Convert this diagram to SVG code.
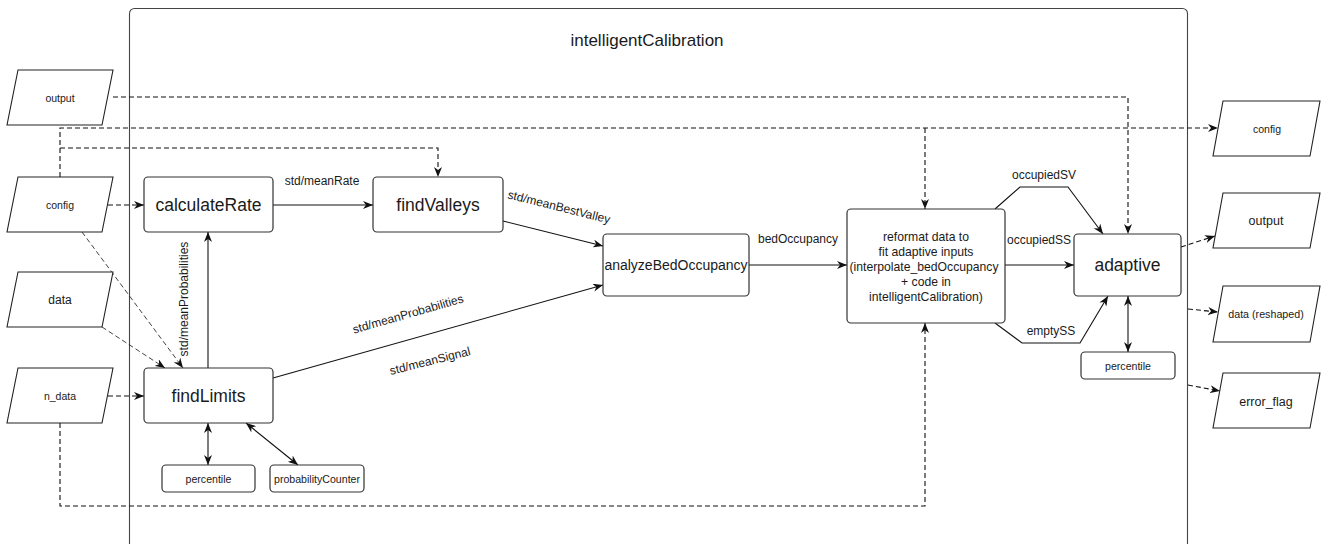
<svg xmlns="http://www.w3.org/2000/svg" width="1326" height="544" viewBox="0 0 1326 544">
<style>
text{font-family:"Liberation Sans",Arial,sans-serif;fill:#1a1a1a;text-anchor:middle;dominant-baseline:central}
.box{fill:#fff;stroke:#333;stroke-width:1.2}
.io{fill:#fff;stroke:#222;stroke-width:1.1}
.ln{fill:none;stroke:#111;stroke-width:1.1}
.dash{stroke-dasharray:5 3}
.big{font-size:17.5px}
.lbl{font-size:12px}
.sm{font-size:10.6px}
</style>
<defs>
<marker id="arr" viewBox="0 0 10 8" refX="10" refY="4" markerWidth="10" markerHeight="8" markerUnits="userSpaceOnUse" orient="auto-start-reverse"><path d="M0,0 L10,4 L0,8 L3,4 z" fill="#111"/></marker>
</defs>
<rect width="1326" height="544" fill="#fff"/>
<g id="container">
<rect x="129.5" y="8.5" width="1058" height="580" rx="5" fill="#fff" stroke="#444" stroke-width="1.1"/>
<text x="647" y="40" style="font-size:17px">intelligentCalibration</text>
</g>
<g id="connectors">
<path class="ln dash" d="M113,97 H1128 V234" marker-end="url(#arr)"/>
<path class="ln dash" d="M60,177 V128 H1218" marker-end="url(#arr)"/>
<path class="ln dash" d="M60,148 H438 V177" marker-end="url(#arr)"/>
<path class="ln dash" d="M925,128 V209" marker-end="url(#arr)"/>
<path class="ln dash" d="M108,205 H144" marker-end="url(#arr)"/>
<path class="ln dash" d="M82,232 L183,368" marker-end="url(#arr)" style="stroke-width:0.8"/>
<path class="ln dash" d="M102,327 L165,368" marker-end="url(#arr)" style="stroke-width:0.8"/>
<path class="ln dash" d="M108,396 H144" marker-end="url(#arr)"/>
<path class="ln dash" d="M60,423 V506 H925 V323" marker-end="url(#arr)"/>
<path class="ln" d="M208,368 V232" marker-end="url(#arr)"/>
<path class="ln" d="M273,205 H373" marker-end="url(#arr)"/>
<path class="ln" d="M503,221 L603,246" marker-end="url(#arr)"/>
<path class="ln" d="M273,378 L603,285" marker-end="url(#arr)"/>
<path class="ln" d="M749,265 H847" marker-end="url(#arr)"/>
<path class="ln" d="M995,209 L1020,187 H1068 L1103,234" marker-end="url(#arr)"/>
<path class="ln" d="M1005,265 H1074" marker-end="url(#arr)"/>
<path class="ln" d="M995,323 L1022,343 H1080 L1108,296" marker-end="url(#arr)"/>
<path class="ln" d="M1128,296 V352" marker-start="url(#arr)" marker-end="url(#arr)"/>
<path class="ln dash" d="M1181,247 L1215,236" marker-end="url(#arr)"/>
<path class="ln dash" d="M1188,309 L1218,312" marker-end="url(#arr)"/>
<path class="ln dash" d="M1188,385 L1220,391" marker-end="url(#arr)"/>
<path class="ln" d="M208,423 V465" marker-start="url(#arr)" marker-end="url(#arr)"/>
<path class="ln" d="M246,423 L298,465" marker-start="url(#arr)" marker-end="url(#arr)"/>
<text class="lbl" x="322" y="181">std/meanRate</text>
<text class="lbl" x="184" y="299" transform="rotate(-90 184 299)">std/meanProbabilities</text>
<text class="lbl" x="559" y="207" transform="rotate(14 559 207)">std/meanBestValley</text>
<text class="lbl" x="408" y="314" transform="rotate(-16 408 314)">std/meanProbabilities</text>
<text class="lbl" x="430" y="361" transform="rotate(-14 430 361)">std/meanSignal</text>
<text class="lbl" x="798" y="239">bedOccupancy</text>
<text class="lbl" x="1044" y="175">occupiedSV</text>
<text class="lbl" x="1039" y="240">occupiedSS</text>
<text class="lbl" x="1051" y="331">emptySS</text>
</g>
<g id="in-output"><polygon class="io" points="18,70 113,70 102,125 7,125"/><text x="60" y="98" style="font-size:10.5px">output</text></g>
<g id="in-config"><polygon class="io" points="18,177 113,177 102,232 7,232"/><text x="60" y="205" style="font-size:10.5px">config</text></g>
<g id="in-data"><polygon class="io" points="18,272 113,272 102,327 7,327"/><text x="60" y="300" style="font-size:12px">data</text></g>
<g id="in-ndata"><polygon class="io" points="18,368 113,368 102,423 7,423"/><text x="60" y="396" style="font-size:10.5px">n_data</text></g>
<g id="out-config"><polygon class="io" points="1223,101 1320,101 1310,156 1213,156"/><text x="1267" y="129" style="font-size:10.5px">config</text></g>
<g id="out-output"><polygon class="io" points="1223,193 1320,193 1310,248 1213,248"/><text x="1266" y="221" style="font-size:12.5px">output</text></g>
<g id="out-data"><polygon class="io" points="1223,286 1320,286 1310,342 1213,342"/><text x="1266" y="314" style="font-size:10.7px">data (reshaped)</text></g>
<g id="out-error"><polygon class="io" points="1223,373 1320,373 1310,428 1213,428"/><text x="1266" y="402" style="font-size:12.5px">error_flag</text></g>
<g id="calculateRate"><rect class="box" x="144" y="177" width="129" height="55" rx="4"/><text class="big" x="208.5" y="205">calculateRate</text></g>
<g id="findValleys"><rect class="box" x="373" y="177" width="130" height="55" rx="4"/><text class="big" x="438" y="205">findValleys</text></g>
<g id="findLimits"><rect class="box" x="144" y="368" width="129" height="55" rx="4"/><text class="big" x="208.5" y="396">findLimits</text></g>
<g id="percentile1"><rect class="box" x="162" y="465" width="93" height="27" rx="4"/><text class="sm" x="208.5" y="479">percentile</text></g>
<g id="probabilityCounter"><rect class="box" x="270" y="465" width="94" height="27" rx="4"/><text x="317" y="479" style="font-size:10.6px" textLength="86" lengthAdjust="spacingAndGlyphs">probabilityCounter</text></g>
<g id="analyzeBedOccupancy"><rect class="box" x="603" y="234" width="146" height="62" rx="4"/><text x="676" y="265" style="font-size:14px">analyzeBedOccupancy</text></g>
<g id="reformat"><rect class="box" x="847" y="209" width="158" height="114" rx="4"/>
<text x="926" y="237" style="font-size:12.2px">reformat data to</text>
<text x="926" y="252" style="font-size:12.2px">fit adaptive inputs</text>
<text x="924" y="267" style="font-size:12.2px">(interpolate_bedOccupancy</text>
<text x="926" y="282" style="font-size:12.2px">+ code in</text>
<text x="926" y="297" style="font-size:12.2px">intelligentCalibration)</text></g>
<g id="adaptive"><rect class="box" x="1074" y="234" width="107" height="62" rx="4"/><text class="big" x="1127.5" y="265">adaptive</text></g>
<g id="percentile2"><rect class="box" x="1081" y="352" width="94" height="27" rx="4"/><text class="sm" x="1128" y="366">percentile</text></g>
</svg>
